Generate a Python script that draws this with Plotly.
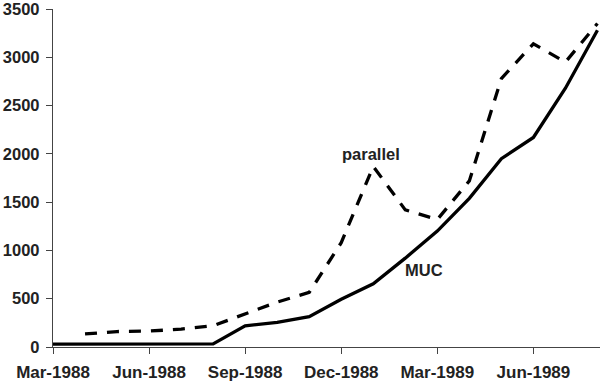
import plotly.graph_objects as go

months = ["Mar-1988", "Apr-1988", "May-1988", "Jun-1988", "Jul-1988", "Aug-1988",
          "Sep-1988", "Oct-1988", "Nov-1988", "Dec-1988", "Jan-1989", "Feb-1989",
          "Mar-1989", "Apr-1989", "May-1989", "Jun-1989", "Jul-1989", "Aug-1989"]

muc = [30, 30, 30, 30, 30, 32, 220, 255, 315, 495, 655, 920,
       1200, 1540, 1950, 2170, 2680, 3280]

parallel = [None, 135, 160, 165, 185, 220, 345, 465, 565, 1080, 1870, 1420,
            1320, 1720, 2780, 3140, 2950, 3350]

tick_months = ["Mar-1988", "Jun-1988", "Sep-1988", "Dec-1988", "Mar-1989", "Jun-1989"]
y_ticks = [0, 500, 1000, 1500, 2000, 2500, 3000, 3500]

fig = go.Figure()
fig.add_trace(go.Scatter(x=months, y=muc, mode="lines", name="MUC",
                         line=dict(color="black", width=3.3)))
fig.add_trace(go.Scatter(x=months, y=parallel, mode="lines", name="parallel",
                         line=dict(color="black", width=3.3, dash="12px,10px")))

font_lbl = dict(family="Liberation Sans, Arial, sans-serif", size=16.5, color="#222", weight="bold")

fig.add_annotation(x="Jan-1989", y=2000, text="parallel", showarrow=False,
                   xanchor="center", yanchor="middle", font=font_lbl, xshift=-2)
fig.add_annotation(x="Feb-1989", y=800, text="MUC", showarrow=False,
                   xanchor="center", yanchor="middle", font=font_lbl, xshift=19)

fig.update_layout(
    width=600, height=383,
    margin=dict(l=53, r=0, t=5, b=36),
    paper_bgcolor="white", plot_bgcolor="white",
    showlegend=False,
    xaxis=dict(type="category", range=[0, 17.08], showgrid=False, zeroline=False,
               showline=True, linecolor="#444", linewidth=1.3,
               ticks="outside", ticklen=6, tickcolor="#444", tickwidth=1.3,
               tickmode="array", tickvals=tick_months, ticktext=tick_months,
               ticklabeloverflow="allow", ticklabelstandoff=3,
               tickfont=dict(family="Liberation Sans, Arial, sans-serif", size=17,
                             color="#222", weight="bold")),
    yaxis=dict(range=[0, 3500], showgrid=False, zeroline=False,
               showline=True, linecolor="#444", linewidth=1.3,
               ticks="outside", ticklen=6, tickcolor="#444", tickwidth=1.3,
               tickmode="array", tickvals=y_ticks,
               ticklabeloverflow="allow", ticklabelstandoff=3,
               tickfont=dict(family="Liberation Sans, Arial, sans-serif", size=16.5,
                             color="#222", weight="bold")),
)

fig.write_html("out.html", config={"displayModeBar": False},
               post_script="document.body.style.margin='0';document.body.style.padding='0';")
